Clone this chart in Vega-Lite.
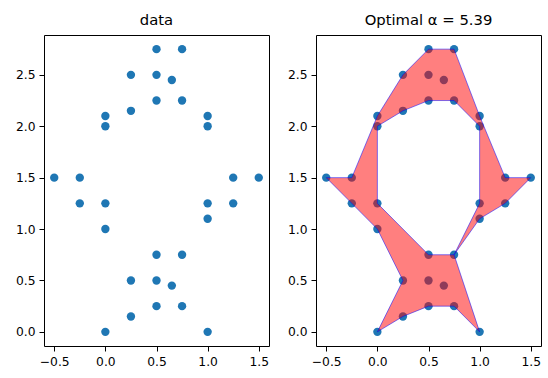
{
  "$schema": "https://vega.github.io/schema/vega-lite/v6.json",
  "padding": {"left": 14, "top": 12, "right": 5, "bottom": 5},
  "spacing": 16,
  "datasets": {
    "pts": [
      {"x": 0.5, "y": 2.75}, {"x": 0.75, "y": 2.75}, {"x": 0.25, "y": 2.5}, {"x": 0.5, "y": 2.5},
      {"x": 0.65, "y": 2.45}, {"x": 0.5, "y": 2.25}, {"x": 0.75, "y": 2.25}, {"x": 0.25, "y": 2.15},
      {"x": 0, "y": 2.1}, {"x": 0, "y": 2.0}, {"x": 1, "y": 2.1}, {"x": 1, "y": 2.0},
      {"x": -0.5, "y": 1.5}, {"x": -0.25, "y": 1.5}, {"x": -0.25, "y": 1.25}, {"x": 0, "y": 1.25},
      {"x": 0, "y": 1.0}, {"x": 1.25, "y": 1.5}, {"x": 1.5, "y": 1.5}, {"x": 1, "y": 1.25},
      {"x": 1.25, "y": 1.25}, {"x": 1, "y": 1.1}, {"x": 0.5, "y": 0.75}, {"x": 0.75, "y": 0.75},
      {"x": 0.25, "y": 0.5}, {"x": 0.5, "y": 0.5}, {"x": 0.65, "y": 0.45}, {"x": 0.5, "y": 0.25},
      {"x": 0.75, "y": 0.25}, {"x": 0.25, "y": 0.15}, {"x": 0, "y": 0}, {"x": 1, "y": 0}
    ],
    "poly": [
      {"i": 0, "x": 0.75, "y": 0.75}, {"i": 1, "x": 1, "y": 0}, {"i": 2, "x": 0.75, "y": 0.25},
      {"i": 3, "x": 0.5, "y": 0.25}, {"i": 4, "x": 0.25, "y": 0.15}, {"i": 5, "x": 0, "y": 0},
      {"i": 6, "x": 0.25, "y": 0.5}, {"i": 7, "x": 0, "y": 1.0}, {"i": 8, "x": -0.25, "y": 1.25},
      {"i": 9, "x": -0.5, "y": 1.5}, {"i": 10, "x": -0.25, "y": 1.5}, {"i": 11, "x": 0, "y": 2.1},
      {"i": 12, "x": 0.25, "y": 2.5}, {"i": 13, "x": 0.5, "y": 2.75}, {"i": 14, "x": 0.75, "y": 2.75},
      {"i": 15, "x": 1, "y": 2.1}, {"i": 16, "x": 1.25, "y": 1.5}, {"i": 17, "x": 1.5, "y": 1.5},
      {"i": 18, "x": 1.25, "y": 1.25}, {"i": 19, "x": 1, "y": 1.1}, {"i": 20, "x": 0.75, "y": 0.75},
      {"i": 21, "x": 1, "y": 1.25}, {"i": 22, "x": 1, "y": 2.0}, {"i": 23, "x": 0.75, "y": 2.25},
      {"i": 24, "x": 0.5, "y": 2.25}, {"i": 25, "x": 0.25, "y": 2.15}, {"i": 26, "x": 0, "y": 2.0},
      {"i": 27, "x": 0, "y": 1.25}, {"i": 28, "x": 0.5, "y": 0.75}, {"i": 29, "x": 0.75, "y": 0.75}
    ]
  },
  "hconcat": [
    {
      "width": 225,
      "height": 311,
      "title": "data",
      "data": {"name": "pts"},
      "mark": {"type": "circle", "size": 70, "color": "#1f77b4", "opacity": 1},
      "encoding": {
        "x": {"field": "x", "type": "quantitative", "title": null,
              "scale": {"domain": [-0.6, 1.6], "nice": false, "zero": false},
              "axis": {"values": [-0.5, 0, 0.5, 1, 1.5], "format": ".1f"}},
        "y": {"field": "y", "type": "quantitative", "title": null,
              "scale": {"domain": [-0.1375, 2.8875], "nice": false, "zero": false},
              "axis": {"values": [0, 0.5, 1, 1.5, 2, 2.5], "format": ".1f"}}
      }
    },
    {
      "width": 225,
      "height": 311,
      "title": "Optimal α = 5.39",
      "layer": [
        {
          "data": {"name": "pts"},
          "mark": {"type": "circle", "size": 70, "color": "#1f77b4", "opacity": 1},
          "encoding": {
            "x": {"field": "x", "type": "quantitative", "title": null,
                  "scale": {"domain": [-0.6, 1.6], "nice": false, "zero": false},
                  "axis": {"values": [-0.5, 0, 0.5, 1, 1.5], "format": ".1f"}},
            "y": {"field": "y", "type": "quantitative", "title": null,
                  "scale": {"domain": [-0.1375, 2.8875], "nice": false, "zero": false},
                  "axis": {"values": [0, 0.5, 1, 1.5, 2, 2.5], "format": ".1f"}}
          }
        },
        {
          "data": {"name": "poly"},
          "mark": {"type": "line", "fill": "red", "fillOpacity": 0.5, "stroke": "blue", "strokeOpacity": 0.5, "strokeWidth": 1},
          "encoding": {
            "x": {"field": "x", "type": "quantitative"},
            "y": {"field": "y", "type": "quantitative"},
            "order": {"field": "i", "type": "quantitative"}
          }
        }
      ]
    }
  ],
  "config": {
    "font": "DejaVu Sans",
    "view": {"stroke": "black", "strokeWidth": 1},
    "axis": {"grid": false, "domain": false, "tickColor": "black", "tickSize": 5, "labelColor": "black",
             "labelFont": "DejaVu Sans", "labelFontSize": 12.3, "labelPadding": 4},
    "title": {"font": "DejaVu Sans", "fontSize": 14.8, "fontWeight": "normal", "color": "black", "offset": 7, "anchor": "middle"}
  }
}
